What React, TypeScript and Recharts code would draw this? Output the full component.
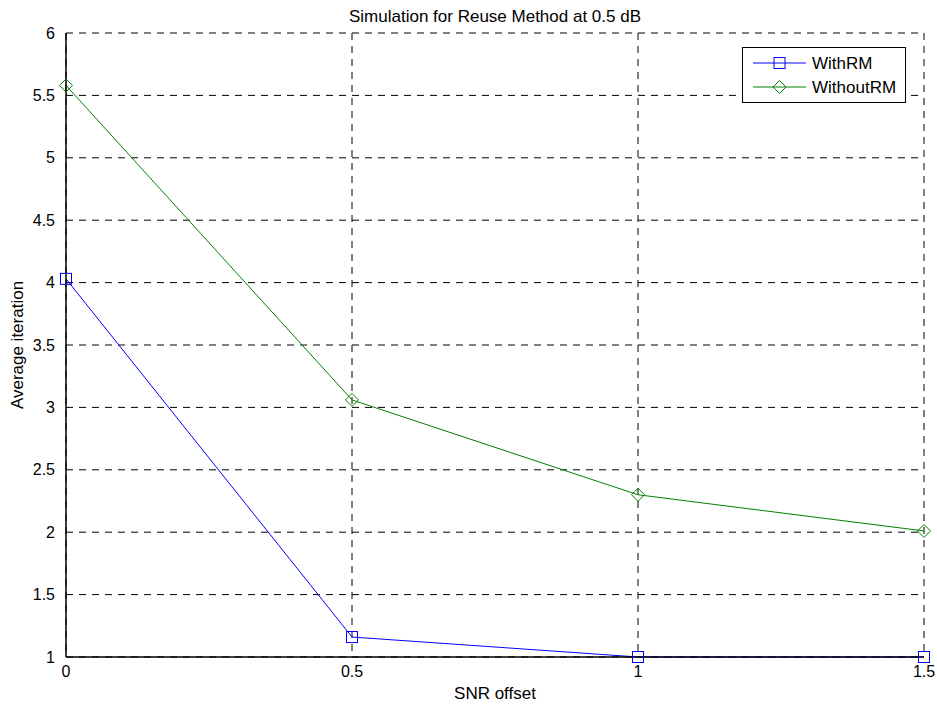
import { LineChart, Line, XAxis, YAxis, CartesianGrid } from "recharts";

const snrOffset = [0, 0.5, 1, 1.5];
const withRM = [4.03, 1.16, 1.0, 1.0];
const withoutRM = [5.58, 3.06, 2.3, 2.01];
const xTicks = [0, 0.5, 1, 1.5];
const yTicks = [1, 1.5, 2, 2.5, 3, 3.5, 4, 4.5, 5, 5.5, 6];

const data = snrOffset.map((x, i) => ({ x, withRM: withRM[i], withoutRM: withoutRM[i] }));

const font = "Arial, 'Liberation Sans', sans-serif";

const SquareDot = (props: any) => {
  const { cx, cy } = props;
  if (cx == null || cy == null) return null;
  return <rect x={cx - 5.5} y={cy - 5.5} width={11} height={11} fill="none" stroke="#0000ff" strokeWidth={1} />;
};

const DiamondDot = (props: any) => {
  const { cx, cy } = props;
  if (cx == null || cy == null) return null;
  return (
    <polygon
      points={`${cx},${cy - 6.5} ${cx + 6.5},${cy} ${cx},${cy + 6.5} ${cx - 6.5},${cy}`}
      fill="none"
      stroke="#008000"
      strokeWidth={1}
    />
  );
};

// MATLAB style legend box, laid over the top right corner of the axes
function LegendBox() {
  return (
    <div
      style={{
        position: "absolute",
        left: 742,
        top: 47,
        width: 164,
        height: 56,
        border: "1px solid #000",
        background: "#fff",
        boxSizing: "border-box",
      }}
    >
      <svg width={162} height={54} style={{ display: "block" }}>
        <line x1={10} y1={15} x2={63} y2={15} stroke="#0000ff" />
        <rect x={31} y={9.5} width={11} height={11} fill="none" stroke="#0000ff" />
        <text x={69} y={21} fontSize={17} fontFamily={font} fill="#000">WithRM</text>
        <line x1={10} y1={39} x2={63} y2={39} stroke="#008000" />
        <polygon points="36.5,32.5 43,39 36.5,45.5 30,39" fill="none" stroke="#008000" />
        <text x={69} y={45} fontSize={17} fontFamily={font} fill="#000">WithoutRM</text>
      </svg>
    </div>
  );
}

export default function App() {
  return (
    <div style={{ position: "absolute", left: 0, top: 0, width: 937, height: 706, background: "#fff" }}>
      <LineChart
        width={937}
        height={706}
        data={data}
        margin={{ top: 33, right: 13, bottom: 0, left: 0 }}
      >
        <CartesianGrid stroke="#000" strokeDasharray="7 6" strokeWidth={1} />
        <XAxis
          dataKey="x"
          type="number"
          domain={[0, 1.5]}
          ticks={xTicks}
          height={49}
          tickLine={false}
          axisLine={{ stroke: "#000", strokeWidth: 1.5 }}
          tick={{ fill: "#000", fontSize: 16, fontFamily: font }}
          tickMargin={3}
          label={{ value: "SNR offset", position: "insideBottom", offset: 7, fill: "#000", fontSize: 17, fontFamily: font }}
        />
        <XAxis
          xAxisId="top"
          orientation="top"
          dataKey="x"
          type="number"
          domain={[0, 1.5]}
          ticks={xTicks}
          height={0}
          tick={false}
          tickLine={false}
          axisLine={{ stroke: "#000", strokeWidth: 1.5 }}
        />
        <YAxis
          type="number"
          domain={[1, 6]}
          ticks={yTicks}
          width={66}
          tickLine={false}
          axisLine={{ stroke: "#000", strokeWidth: 1.5 }}
          tick={{ fill: "#000", fontSize: 16, fontFamily: font }}
          tickMargin={5}
          label={{
            value: "Average iteration",
            angle: -90,
            position: "insideLeft",
            offset: 17,
            style: { textAnchor: "middle" },
            fill: "#000",
            fontSize: 17,
            fontFamily: font,
          }}
        />
        <YAxis
          yAxisId="right"
          orientation="right"
          type="number"
          domain={[1, 6]}
          ticks={yTicks}
          width={0}
          tick={false}
          tickLine={false}
          axisLine={{ stroke: "#000", strokeWidth: 1.5 }}
        />
        <Line
          dataKey="withRM"
          name="WithRM"
          stroke="#0000ff"
          strokeWidth={1}
          dot={<SquareDot />}
          activeDot={false}
          isAnimationActive={false}
        />
        <Line
          dataKey="withoutRM"
          name="WithoutRM"
          stroke="#008000"
          strokeWidth={1}
          dot={<DiamondDot />}
          activeDot={false}
          isAnimationActive={false}
        />
        <text x={495} y={22} textAnchor="middle" fontSize={17} fontFamily={font} fill="#000">
          Simulation for Reuse Method at 0.5 dB
        </text>
      </LineChart>
      <LegendBox />
    </div>
  );
}
